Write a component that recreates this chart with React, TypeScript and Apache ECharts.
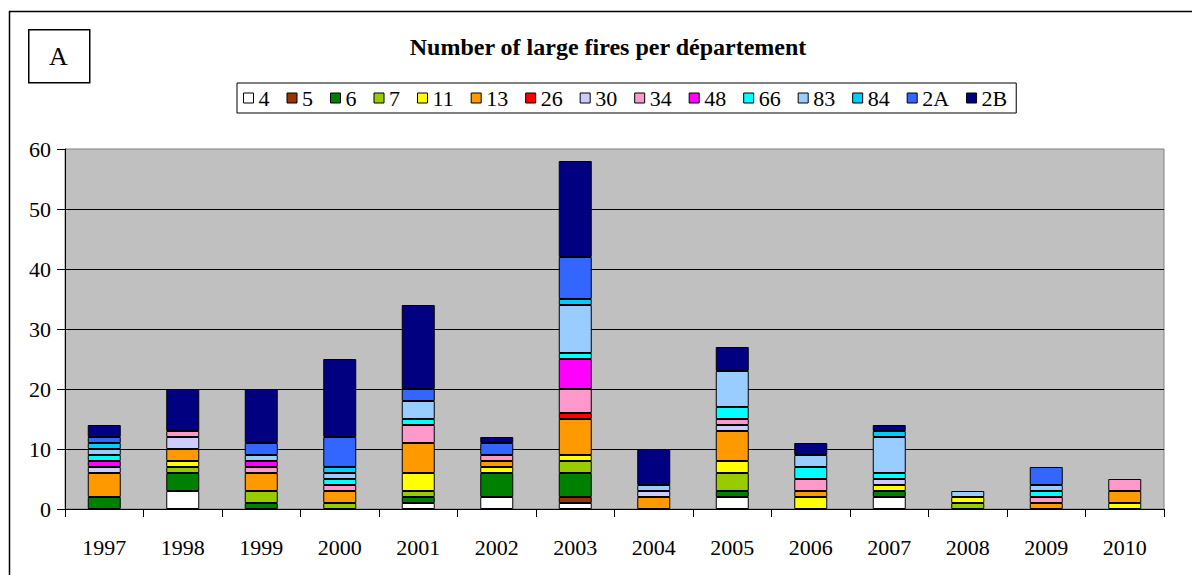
import React, { useEffect, useRef } from "react";
import * as echarts from "echarts";

const years = ["1997", "1998", "1999", "2000", "2001", "2002", "2003", "2004", "2005", "2006", "2007", "2008", "2009", "2010"];
const departements = ["4", "5", "6", "7", "11", "13", "26", "30", "34", "48", "66", "83", "84", "2A", "2B"];
const colors = ["#FFFFFF", "#993300", "#008000", "#99CC00", "#FFFF00", "#FF9900", "#FF0000", "#CCCCFF", "#FF99CC", "#FF00FF", "#00FFFF", "#99CCFF", "#00CCFF", "#3366FF", "#000080"];

const d4 = [0, 3, 0, 0, 1, 2, 1, 0, 2, 0, 2, 0, 0, 0];
const d5 = [0, 0, 0, 0, 0, 0, 1, 0, 0, 0, 0, 0, 0, 0];
const d6 = [2, 3, 1, 0, 1, 4, 4, 0, 1, 0, 1, 0, 0, 0];
const d7 = [0, 1, 2, 1, 1, 0, 2, 0, 3, 0, 0, 1, 0, 0];
const d11 = [0, 1, 0, 0, 3, 1, 1, 0, 2, 2, 1, 1, 0, 1];
const d13 = [4, 2, 3, 2, 5, 1, 6, 2, 5, 1, 0, 0, 1, 2];
const d26 = [0, 0, 0, 0, 0, 0, 1, 0, 0, 0, 0, 0, 0, 0];
const d30 = [1, 2, 0, 0, 0, 0, 0, 1, 1, 0, 1, 0, 0, 0];
const d34 = [0, 1, 1, 1, 3, 1, 4, 0, 1, 2, 0, 0, 1, 2];
const d48 = [1, 0, 1, 0, 0, 0, 5, 0, 0, 0, 0, 0, 0, 0];
const d66 = [1, 0, 0, 1, 1, 0, 1, 0, 2, 2, 1, 0, 1, 0];
const d83 = [1, 0, 1, 1, 3, 0, 8, 1, 6, 2, 6, 1, 1, 0];
const d84 = [1, 0, 0, 1, 0, 0, 1, 0, 0, 0, 1, 0, 0, 0];
const d2A = [1, 0, 2, 5, 2, 2, 7, 0, 0, 0, 0, 0, 3, 0];
const d2B = [2, 7, 9, 13, 14, 1, 16, 6, 4, 2, 1, 0, 0, 0];

const seriesValues = [d4, d5, d6, d7, d11, d13, d26, d30, d34, d48, d66, d83, d84, d2A, d2B];
const yTicks = { min: 0, max: 60, interval: 10 };

const FONT = "Liberation Serif";

export default function App() {
  const ref = useRef<HTMLDivElement>(null);
  useEffect(() => {
    if (!ref.current) return;
    const chart = echarts.init(ref.current, null, { renderer: "svg" });
    chart.setOption({
      animation: false,
      backgroundColor: "#FFFFFF",
      textStyle: { fontFamily: FONT, color: "#000" },
      title: {
        text: "Number of large fires per département",
        left: 603,
        top: 30,
        textAlign: "center",
        textStyle: { fontFamily: FONT, fontSize: 24, fontWeight: "bold", color: "#000" },
      },
      legend: {
        data: departements,
        left: 237,
        top: 83,
        orient: "horizontal",
        icon: "rect",
        itemWidth: 10,
        itemHeight: 10,
        itemGap: 17,
        padding: [4, 9, 4, 6],
        borderColor: "#000",
        borderWidth: 1,
        selectedMode: false,
        itemStyle: { borderColor: "#000", borderWidth: 1 },
        textStyle: { fontFamily: FONT, fontSize: 22, color: "#000" },
      },
      grid: {
        left: 65,
        right: 28,
        top: 149,
        bottom: 66,
        show: true,
        backgroundColor: "#C0C0C0",
        borderColor: "#808080",
        borderWidth: 1,
        containLabel: false,
      },
      xAxis: {
        type: "category",
        data: years,
        boundaryGap: true,
        axisLine: { show: true, lineStyle: { color: "#000", width: 1 } },
        axisTick: { show: true, length: 8, inside: false, lineStyle: { color: "#000" } },
        axisLabel: { fontFamily: FONT, fontSize: 22, color: "#000", margin: 27 },
        splitLine: { show: false },
      },
      yAxis: {
        type: "value",
        min: yTicks.min,
        max: yTicks.max,
        interval: yTicks.interval,
        axisLine: { show: true, lineStyle: { color: "#000", width: 1 } },
        axisTick: { show: true, length: 8, inside: false, lineStyle: { color: "#000" } },
        axisLabel: { fontFamily: FONT, fontSize: 22, color: "#000", margin: 14 },
        splitLine: { show: true, showMaxLine: false, lineStyle: { color: "#000", width: 1 } },
      },
      graphic: [
        {
          type: "rect",
          left: 7,
          top: 9,
          shape: { width: 1210, height: 600 },
          style: { fill: "none", stroke: "#000", lineWidth: 1.5 },
          silent: true,
        },
        {
          type: "rect",
          left: 28,
          top: 29,
          shape: { width: 61, height: 53 },
          style: { fill: "#fff", stroke: "#000", lineWidth: 1.5 },
          silent: true,
        },
        {
          type: "text",
          x: 58.5,
          y: 56,
          style: { text: "A", fontFamily: FONT, fontSize: 26, fill: "#000", align: "center", verticalAlign: "middle" },
          silent: true,
        },
      ],
      series: departements.map((name, i) => ({
        name,
        type: "bar",
        stack: "total",
        barWidth: 33,
        itemStyle: { color: colors[i], borderColor: "#000", borderWidth: 1 },
        data: seriesValues[i].map((v) => (v === 0 ? null : v)),
      })),
    });
    return () => chart.dispose();
  }, []);
  return (
    <div
      ref={ref}
      style={{ position: "fixed", left: 0, top: 0, width: 1192, height: 575 }}
    />
  );
}
